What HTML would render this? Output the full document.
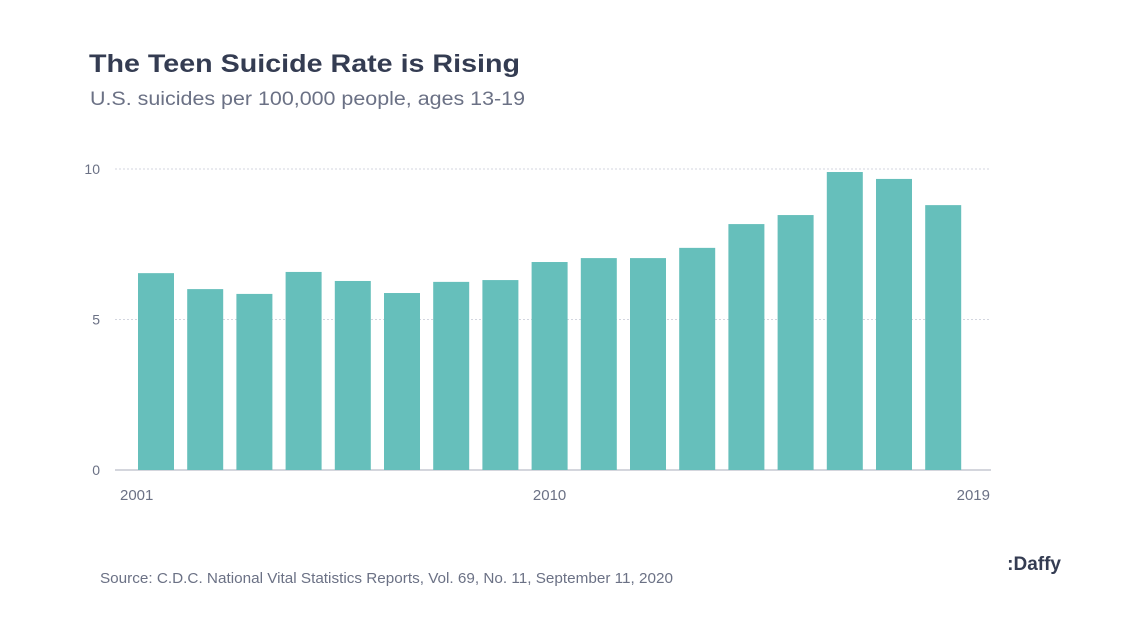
<!DOCTYPE html>
<html><head><meta charset="utf-8">
<style>
body{margin:0;background:#fff;width:1130px;height:628px;overflow:hidden;font-family:"Liberation Sans",sans-serif;}
svg{display:block}
</style></head>
<body>
<svg id="c" width="1130" height="628">
<text x="89" y="72" font-size="25" font-weight="900" fill="#343c52" textLength="431" lengthAdjust="spacingAndGlyphs">The Teen Suicide Rate is Rising</text>
<text x="90" y="105" font-size="19" fill="#6b7185" textLength="435" lengthAdjust="spacingAndGlyphs">U.S. suicides per 100,000 people, ages 13-19</text>
<g id="grid"></g>
<g id="bars"></g>
<g id="xlabels"></g>
<text x="100" y="583" font-size="15" fill="#6b7185" textLength="573" lengthAdjust="spacingAndGlyphs">Source: C.D.C. National Vital Statistics Reports, Vol. 69, No. 11, September 11, 2020</text>
<text x="1061" y="570" font-size="19" font-weight="900" fill="#343c52" text-anchor="end">:Daffy</text>
</svg>
<script>
const categories=["2001","2002","2003","2004","2005","2006","2007","2008","2010","2011","2012","2013","2014","2015","2016","2017","2019"];
const values=[6.54,6.01,5.85,6.58,6.28,5.88,6.25,6.31,6.91,7.04,7.04,7.38,8.17,8.47,9.90,9.67,8.80];
const yTicks=[0,5,10];
const xLabelIdx=[0,8,16];
const NS="http://www.w3.org/2000/svg";
const L=115,R=991,Y0=470,Y10=169;
const y=v=>Y0-(Y0-Y10)*v/10;
const step=49.2,bw=36,x0=138;
const x=i=>x0+i*step;
const grid=document.getElementById('grid'),bars=document.getElementById('bars'),xl=document.getElementById('xlabels');
yTicks.forEach(t=>{
  const ln=document.createElementNS(NS,'line');
  
  
  ln.setAttribute('x1',L);ln.setAttribute('x2',R);ln.setAttribute('y1',y(t));ln.setAttribute('y2',y(t));
  ln.setAttribute('stroke',t===0?'#a9adbb':'#d3d6df');ln.setAttribute('stroke-width',1);
  if(t!==0)ln.setAttribute('stroke-dasharray','2,2');
  grid.appendChild(ln);
  const tx=document.createElementNS(NS,'text');
  
  
  tx.setAttribute('x',100);tx.setAttribute('y',y(t)+5);tx.setAttribute('text-anchor','end');
  tx.setAttribute('font-size','14');tx.setAttribute('fill','#6b7185');tx.textContent=t;
  grid.appendChild(tx);
});
values.forEach((v,i)=>{
  const r=document.createElementNS(NS,'rect');
  
  
  r.setAttribute('x',x(i));r.setAttribute('width',bw);r.setAttribute('y',y(v));r.setAttribute('height',Y0-y(v));
  r.setAttribute('fill','#66bfbb');
  bars.appendChild(r);
});
xLabelIdx.forEach((i,k)=>{
  const tx=document.createElementNS(NS,'text');
  
  
  let px=x(i)+bw/2,anchor='middle';
  if(k===0){px=120;anchor='start';} else if(k===xLabelIdx.length-1){px=990;anchor='end';}
  tx.setAttribute('x',px);tx.setAttribute('y',500);tx.setAttribute('text-anchor',anchor);
  tx.setAttribute('font-size','15');tx.setAttribute('fill','#6b7185');tx.textContent=categories[i];
  xl.appendChild(tx);
});
</script>
</body></html>
